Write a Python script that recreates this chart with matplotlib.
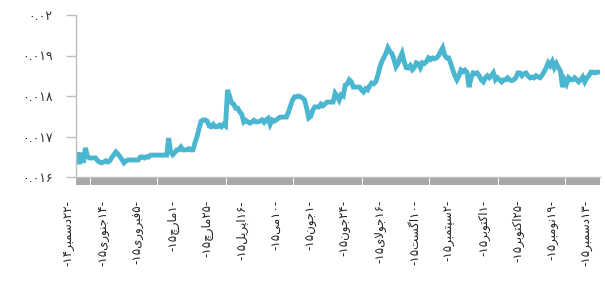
import matplotlib
matplotlib.use("Agg")
import matplotlib.pyplot as plt
import matplotlib.transforms as mtransforms
from matplotlib.ticker import FixedLocator

# ---------------- data ----------------
values = [
    0.01655, 0.01632, 0.01660, 0.01635, 0.01672,
    0.01650,
    0.01647, 0.01647, 0.01647, 0.01647,
    0.01640, 0.01637, 0.01635, 0.01637, 0.01640, 0.01637, 0.01640,
    0.01648, 0.01655, 0.01662,
    0.01657,
    0.01650, 0.01643, 0.01635,
    0.01640,
    0.01642, 0.01642, 0.01642, 0.01642, 0.01642, 0.01642,
    0.01649, 0.01650, 0.01647, 0.01650, 0.01649,
    0.01654, 0.01654, 0.01654, 0.01654, 0.01654, 0.01654, 0.01654, 0.01654, 0.01654,
    0.01696,
    0.01662,
    0.01655, 0.01660,
    0.01667, 0.01667, 0.01674, 0.01667, 0.01667, 0.01667, 0.01670, 0.01667, 0.01667,
    0.01685, 0.01700, 0.01720, 0.01738,
    0.01741, 0.01741, 0.01738,
    0.01726, 0.01724, 0.01730, 0.01724, 0.01724, 0.01728, 0.01724, 0.01730, 0.01726,
    0.01815,
    0.01800,
    0.01783, 0.01780,
    0.01770, 0.01770,
    0.01761, 0.01755,
    0.01736, 0.01740, 0.01736, 0.01733, 0.01736, 0.01740, 0.01736, 0.01736, 0.01738,
    0.01741, 0.01735, 0.01741, 0.01745, 0.01730, 0.01741, 0.01738, 0.01741, 0.01745,
    0.01748, 0.01748, 0.01748, 0.01748,
    0.01760, 0.01775, 0.01790, 0.01798,
    0.01798, 0.01800, 0.01798, 0.01795, 0.01790,
    0.01770,
    0.01746, 0.01750,
    0.01765, 0.01773, 0.01773,
    0.01773, 0.01780, 0.01776, 0.01780,
    0.01785, 0.01785, 0.01785, 0.01785,
    0.01807, 0.01800, 0.01790,
    0.01803, 0.01800,
    0.01827, 0.01830, 0.01840, 0.01835,
    0.01822, 0.01822, 0.01822, 0.01822,
    0.01815, 0.01810, 0.01818, 0.01815, 0.01825,
    0.01832, 0.01830, 0.01835, 0.01850, 0.01870,
    0.01885, 0.01895, 0.01905,
    0.01919, 0.01910, 0.01905,
    0.01890, 0.01872,
    0.01880, 0.01895,
    0.01906,
    0.01885, 0.01870,
    0.01869, 0.01875, 0.01865, 0.01870,
    0.01882, 0.01880, 0.01870, 0.01882, 0.01880, 0.01885,
    0.01894, 0.01890, 0.01894, 0.01892, 0.01894, 0.01900,
    0.01910, 0.01919,
    0.01900, 0.01894, 0.01894,
    0.01880, 0.01864, 0.01850,
    0.01840, 0.01850,
    0.01864, 0.01860, 0.01864, 0.01858,
    0.01822,
    0.01845, 0.01857, 0.01855, 0.01857,
    0.01850, 0.01840, 0.01835,
    0.01845, 0.01850, 0.01845, 0.01850, 0.01857,
    0.01840, 0.01845, 0.01840, 0.01835, 0.01840, 0.01840, 0.01845, 0.01840, 0.01838, 0.01840,
    0.01845, 0.01857, 0.01857, 0.01850, 0.01855, 0.01857, 0.01850,
    0.01845, 0.01847, 0.01845, 0.01850, 0.01847, 0.01845, 0.01852,
    0.01860, 0.01870, 0.01882, 0.01875, 0.01885, 0.01870,
    0.01880, 0.01870,
    0.01862,
    0.01822,
    0.01840, 0.01830, 0.01845,
    0.01840, 0.01840, 0.01845, 0.01840, 0.01835, 0.01840,
    0.01847, 0.01835, 0.01845, 0.01850,
    0.01859, 0.01859, 0.01857, 0.01859, 0.01859,
]

x_tick_labels = [
    "۲۲-دسمبر-۱۴", "۱۴-جنوری-۱۵", "۵-فبروری-۱۵", "۱-مارچ-۱۵",
    "۲۵-مارچ-۱۵", "۱۶-اپریل-۱۵", "۱۰-می-۱۵", "۱-جون-۱۵",
    "۲۴-جون-۱۵", "۱۶-جولای-۱۵", "۱۰-اگست-۱۵", "۲-سپتمبر-۱۵",
    "۱-اکتوبر-۱۵", "۲۵-اکتوبر-۱۵", "۱۹-نومبر-۱۵", "۱۳-دسمبر-۱۵",
]
label_step = 17

y_ticks = [0.016, 0.017, 0.018, 0.019, 0.02]
y_tick_labels = ["۰.۰۱۶", "۰.۰۱۷", "۰.۰۱۸", "۰.۰۱۹", "۰.۰۲"]

# ---------------- minimal Arabic/Persian shaping for display ----------------
FORMS = {  # isolated, final, initial, medial
    "\u0627": ("\uFE8D", "\uFE8E", None, None),
    "\u0628": ("\uFE8F", "\uFE90", "\uFE91", "\uFE92"),
    "\u062A": ("\uFE95", "\uFE96", "\uFE97", "\uFE98"),
    "\u062C": ("\uFE9D", "\uFE9E", "\uFE9F", "\uFEA0"),
    "\u062F": ("\uFEA9", "\uFEAA", None, None),
    "\u0631": ("\uFEAD", "\uFEAE", None, None),
    "\u0632": ("\uFEAF", "\uFEB0", None, None),
    "\u0633": ("\uFEB1", "\uFEB2", "\uFEB3", "\uFEB4"),
    "\u0641": ("\uFED1", "\uFED2", "\uFED3", "\uFED4"),
    "\u0644": ("\uFEDD", "\uFEDE", "\uFEDF", "\uFEE0"),
    "\u0645": ("\uFEE1", "\uFEE2", "\uFEE3", "\uFEE4"),
    "\u0646": ("\uFEE5", "\uFEE6", "\uFEE7", "\uFEE8"),
    "\u0648": ("\uFEED", "\uFEEE", None, None),
    "\u06CC": ("\uFBFC", "\uFBFD", "\uFBFE", "\uFBFF"),
    "\u067E": ("\uFB56", "\uFB57", "\uFB58", "\uFB59"),
    "\u0686": ("\uFB7A", "\uFB7B", "\uFB7C", "\uFB7D"),
    "\u06A9": ("\uFB8E", "\uFB8F", "\uFB90", "\uFB91"),
    "\u06AF": ("\uFB92", "\uFB93", "\uFB94", "\uFB95"),
}


def shape_word(word):
    out = []
    n = len(word)
    j = 0
    while j < n:
        c = word[j]
        prev_joins = j > 0 and FORMS.get(word[j - 1], (None, None, None))[2] is not None
        if c == "\u0644" and j + 1 < n and word[j + 1] == "\u0627":
            out.append("\uFEFC" if prev_joins else "\uFEFB")
            j += 2
            continue
        f = FORMS[c]
        next_joins = f[2] is not None and j + 1 < n and word[j + 1] in FORMS
        if prev_joins and next_joins:
            out.append(f[3])
        elif prev_joins:
            out.append(f[1])
        elif next_joins:
            out.append(f[2])
        else:
            out.append(f[0])
        j += 1
    return "".join(out)


def rtl_display(s):
    runs, cur, cur_is_letter = [], "", None
    for ch in s:
        is_letter = ch in FORMS
        if cur and is_letter != cur_is_letter:
            runs.append((cur, cur_is_letter))
            cur = ""
        cur += ch
        cur_is_letter = is_letter
    if cur:
        runs.append((cur, cur_is_letter))
    parts = []
    for text, is_letter in reversed(runs):
        parts.append(shape_word(text)[::-1] if is_letter else text)
    return "".join(parts)


# ---------------- plot ----------------
W, H = 605, 282
fig = plt.figure(figsize=(W / 100, H / 100), dpi=100)
ax = fig.add_axes([76.3 / W, 1 - 177 / H, (600 - 76.3) / W, (177 - 15) / H])

line_color = "#4bb6d0"
axis_color = "#bfbfbf"
tick_color = "#9f9f9f"

xs = list(range(len(values)))
ax.plot(xs, values, color=line_color, lw=3.5, solid_joinstyle="miter")

ax.set_xlim(-0.5, len(values) - 0.5)
ax.set_ylim(y_ticks[0], y_ticks[-1])

for s in ("top", "right"):
    ax.spines[s].set_visible(False)
for s in ("left", "bottom"):
    ax.spines[s].set_color(axis_color)
    ax.spines[s].set_linewidth(1.0)

ax.set_yticks(y_ticks)
ax.set_yticklabels(y_tick_labels, family=["DejaVu Sans"], fontsize=9, color="#333333")
ax.tick_params(axis="y", direction="out", length=7, width=1.0, color=axis_color, pad=10)

major_pos = [i * label_step for i in range(len(x_tick_labels))]
ax.xaxis.set_major_locator(FixedLocator(major_pos))
ax.xaxis.set_minor_locator(FixedLocator(xs))
ax.set_xticklabels([rtl_display(t) for t in x_tick_labels], rotation=90,
                   family=["DejaVu Sans"], fontsize=8.5, color="#222222",
                   ha="center", va="top")
ax.tick_params(axis="x", which="both", direction="out", length=5.5, width=1.3,
               color=tick_color, pad=11)

offset = mtransforms.ScaledTranslation(-8 / 100, 0, fig.dpi_scale_trans)
for lab in ax.get_xticklabels():
    lab.set_transform(lab.get_transform() + offset)

fig.savefig("out.png", dpi=100, facecolor="white")
